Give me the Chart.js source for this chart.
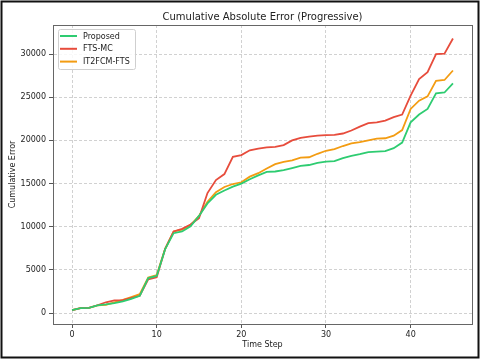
<!DOCTYPE html>
<html>
<head>
<meta charset="utf-8">
<script src="https://cdn.jsdelivr.net/npm/chart.js@4.4.1/dist/chart.umd.min.js"></script>
<style>
html,body{margin:0;padding:0;background:#fff;}
#wrap{width:480px;height:359px;position:relative;}
</style>
</head>
<body>
<div id="wrap"><canvas id="c" width="480" height="359"></canvas></div>
<script>
const timeSteps = [0,1,2,3,4,5,6,7,8,9,10,11,12,13,14,15,16,17,18,19,20,21,22,23,24,25,26,27,28,29,30,31,32,33,34,35,36,37,38,39,40,41,42,43,44,45];
const proposed = [350,580,600,880,1000,1160,1350,1650,2000,4050,4300,7400,9250,9450,10050,11250,12700,13700,14200,14650,15000,15500,15950,16350,16400,16550,16800,17050,17150,17400,17550,17600,17950,18200,18400,18650,18700,18750,19100,19750,22100,23000,23650,25450,25550,26600];
const ftsMc = [350,580,600,900,1250,1470,1500,1750,2000,3900,4150,7450,9450,9750,10250,11000,13900,15400,16100,18100,18300,18850,19050,19200,19250,19450,20000,20300,20450,20550,20600,20650,20800,21150,21600,22000,22100,22300,22700,23000,25200,27100,27900,30000,30050,31800];
const it2fcm = [350,580,600,880,950,1230,1520,1850,2200,4130,4400,7450,9450,9650,10200,11250,12900,14000,14600,14950,15150,15800,16200,16750,17250,17500,17700,18000,18050,18450,18800,19000,19350,19650,19800,20000,20200,20250,20550,21200,23650,24600,25100,26900,27000,28100];
const seriesNames = ['Proposed','FTS-MC','IT2FCM-FTS'];
const xTicks = [0,10,20,30,40];
const yTicks = [0,5000,10000,15000,20000,25000,30000];
const titleText = 'Cumulative Absolute Error (Progressive)';
const xLabel = 'Time Step';
const yLabel = 'Cumulative Error';

const colors = ['#2ecc71','#e74c3c','#f39c12'];
const toPts = arr => arr.map((v,i)=>({x:timeSteps[i], y:v}));

Chart.defaults.font.family = "'DejaVu Sans', sans-serif";
Chart.defaults.color = '#222';

const framePlugin = {
  id:'frame',
  afterDatasetsDraw(chart){
    const {ctx, chartArea:a} = chart;
    ctx.save();
    ctx.strokeStyle = '#666';
    ctx.lineWidth = 1;
    ctx.strokeRect(Math.round(a.left)+0.5, Math.round(a.top)+0.5, Math.round(a.right-a.left), Math.round(a.bottom-a.top));
    // legend
    const lx = 58, ly = 29, lw = 77, lh = 40;
    ctx.beginPath();
    ctx.roundRect(lx+0.5, ly+0.5, lw, lh, 2);
    ctx.fillStyle = 'rgba(255,255,255,0.85)';
    ctx.fill();
    ctx.strokeStyle = '#cfcfcf';
    ctx.stroke();
    ctx.font = "8px 'DejaVu Sans'";
    ctx.textBaseline = 'middle';
    ctx.textAlign = 'left';
    chart.data.datasets.forEach((ds,i)=>{
      const y = 36 + i*12.8;
      ctx.strokeStyle = ds.borderColor;
      ctx.lineWidth = 2;
      ctx.beginPath();
      ctx.moveTo(60, y); ctx.lineTo(77, y);
      ctx.stroke();
      ctx.fillStyle = '#222';
      ctx.fillText(ds.label, 83, y+0.5);
    });
    ctx.restore();
  },
  afterDraw(chart){
    const ctx = chart.ctx;
    ctx.save();
    ctx.strokeStyle = '#111';
    ctx.lineWidth = 2;
    ctx.strokeRect(1.5,1.5,477,356);
    ctx.restore();
  }
};

new Chart(document.getElementById('c'), {
  type:'line',
  data:{
    datasets:[
      {label:seriesNames[0], data:toPts(proposed), borderColor:colors[0], backgroundColor:colors[0]},
      {label:seriesNames[1], data:toPts(ftsMc), borderColor:colors[1], backgroundColor:colors[1]},
      {label:seriesNames[2], data:toPts(it2fcm), borderColor:colors[2], backgroundColor:colors[2]}
    ]
  },
  options:{
    responsive:false,
    animation:false,
    devicePixelRatio:1,
    layout:{padding:{left:0,right:8,top:0,bottom:0}},
    elements:{point:{radius:0}, line:{borderWidth:1.8, tension:0}},
    plugins:{
      legend:{display:false},
      tooltip:{enabled:false},
      title:{display:true, text:titleText, fullSize:false, font:{size:10, weight:'normal'}, color:'#222', padding:{top:11,bottom:2}}
    },
    scales:{
      x:{
        type:'linear', min:-2.25, max:47.25,
        afterBuildTicks(s){ s.ticks = xTicks.map(v=>({value:v})); },
        afterFit(s){ s.height = 35; },
        grid:{color:'rgba(0,0,0,0.18)', lineWidth:1, drawTicks:true, tickLength:4, tickColor:'#555', tickBorderDash:[]},
        border:{display:true, color:'#666', dash:[3,2]},
        ticks:{font:{size:8}, padding:2, maxRotation:0, color:'#222', callback:v=>String(v)},
        title:{display:true, text:xLabel, font:{size:8}, padding:{top:2,bottom:9}, color:'#222'}
      },
      y:{
        type:'linear', min:-1270, max:33370,
        afterBuildTicks(s){ s.ticks = yTicks.map(v=>({value:v})); },
        afterFit(s){ s.width = 53; },
        grid:{color:'rgba(0,0,0,0.18)', lineWidth:1, drawTicks:true, tickLength:4, tickColor:'#555', tickBorderDash:[]},
        border:{display:true, color:'#666', dash:[3,2]},
        ticks:{font:{size:8}, padding:3, color:'#222', callback:v=>String(v)},
        title:{display:true, text:yLabel, font:{size:8}, padding:{top:8,bottom:0}, color:'#222'}
      }
    }
  },
  plugins:[framePlugin]
});
</script>
</body>
</html>
